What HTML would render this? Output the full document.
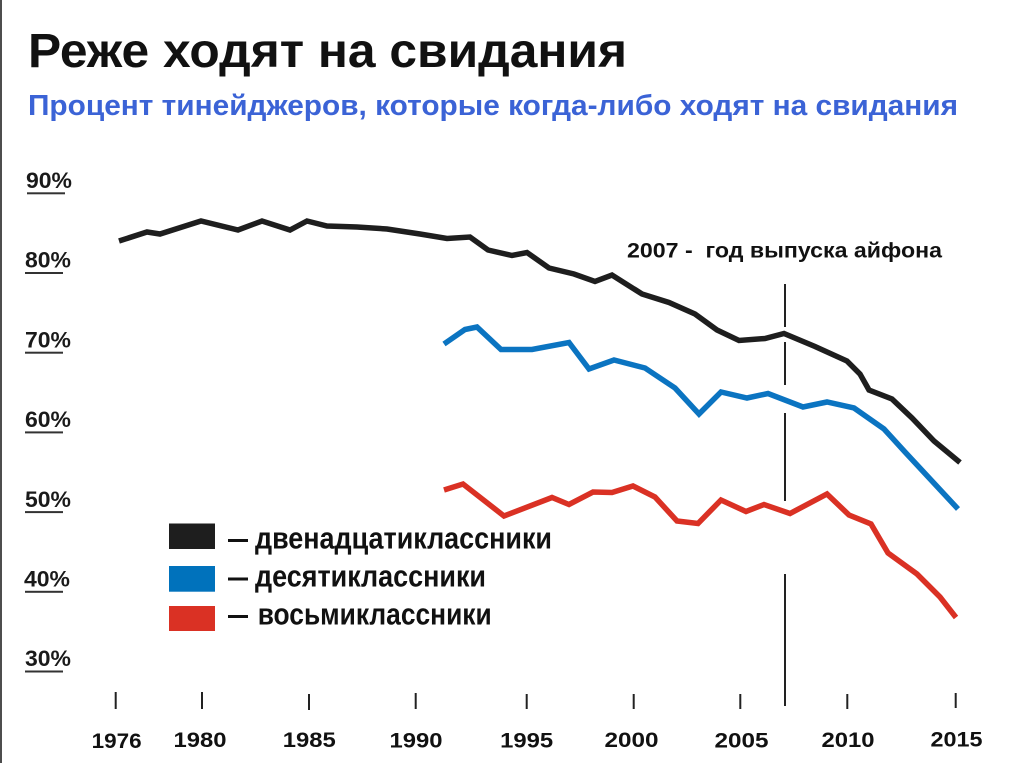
<!DOCTYPE html>
<html>
<head>
<meta charset="utf-8">
<style>
  html,body{margin:0;padding:0;background:#fff;}
  svg{display:block;}
  text{font-family:"Liberation Sans","Noto Sans CJK SC",sans-serif;font-weight:bold;}
</style>
</head>
<body>
<svg width="1024" height="763" viewBox="0 0 1024 763" xmlns="http://www.w3.org/2000/svg">
  <rect x="0" y="0" width="1024" height="763" fill="#ffffff"/>
  <rect x="0" y="0" width="2" height="763" fill="#4d4d4d"/>

  <!-- Title -->
  <text x="28" y="67" font-size="48" fill="#111111" textLength="599" lengthAdjust="spacingAndGlyphs">Реже ходят на свидания</text>
  <text x="28" y="115" font-size="29" fill="#3b63d6" textLength="930" lengthAdjust="spacingAndGlyphs">Процент тинейджеров, которые когда-либо ходят на свидания</text>

  <!-- Y axis labels -->
  <g fill="#1a1a1a" font-size="22">
    <text x="26" y="188" textLength="46" lengthAdjust="spacingAndGlyphs">90%</text>
    <text x="25" y="267.7" textLength="46" lengthAdjust="spacingAndGlyphs">80%</text>
    <text x="25" y="347.4" textLength="46" lengthAdjust="spacingAndGlyphs">70%</text>
    <text x="25" y="427.1" textLength="46" lengthAdjust="spacingAndGlyphs">60%</text>
    <text x="25" y="506.8" textLength="46" lengthAdjust="spacingAndGlyphs">50%</text>
    <text x="24" y="586.5" textLength="46" lengthAdjust="spacingAndGlyphs">40%</text>
    <text x="25" y="666.2" textLength="46" lengthAdjust="spacingAndGlyphs">30%</text>
  </g>
  <g fill="#333333">
    <rect x="27" y="192.3" width="38" height="2"/>
    <rect x="25" y="272" width="38" height="2"/>
    <rect x="25" y="351.7" width="38" height="2"/>
    <rect x="25" y="431.4" width="38" height="2"/>
    <rect x="25" y="511.1" width="38" height="2"/>
    <rect x="25" y="590.8" width="38" height="2"/>
    <rect x="25" y="670.5" width="38" height="2"/>
  </g>

  <!-- X ticks -->
  <g stroke="#222" stroke-width="2">
    <line x1="115.7" y1="692" x2="115.7" y2="709"/>
    <line x1="202" y1="692" x2="202" y2="709"/>
    <line x1="309" y1="694" x2="309" y2="710"/>
    <line x1="415.7" y1="693" x2="415.7" y2="709"/>
    <line x1="526.7" y1="694" x2="526.7" y2="709"/>
    <line x1="633.7" y1="694" x2="633.7" y2="709"/>
    <line x1="740.3" y1="694" x2="740.3" y2="709"/>
    <line x1="847.3" y1="694" x2="847.3" y2="709"/>
    <line x1="955.7" y1="693" x2="955.7" y2="708"/>
  </g>
  <g fill="#111" font-size="21.5" text-anchor="middle">
    <text x="116.7" y="748" textLength="50" lengthAdjust="spacingAndGlyphs">1976</text>
    <text x="200" y="747" textLength="53" lengthAdjust="spacingAndGlyphs">1980</text>
    <text x="309.3" y="747" textLength="53" lengthAdjust="spacingAndGlyphs">1985</text>
    <text x="416" y="747.5" textLength="53" lengthAdjust="spacingAndGlyphs">1990</text>
    <text x="526.7" y="747.5" textLength="53" lengthAdjust="spacingAndGlyphs">1995</text>
    <text x="631.5" y="747" textLength="54" lengthAdjust="spacingAndGlyphs">2000</text>
    <text x="741.5" y="747.5" textLength="54" lengthAdjust="spacingAndGlyphs">2005</text>
    <text x="848" y="747" textLength="53" lengthAdjust="spacingAndGlyphs">2010</text>
    <text x="956.5" y="746.5" textLength="52" lengthAdjust="spacingAndGlyphs">2015</text>
  </g>

  <!-- 2007 marker -->
  <g stroke="#222" stroke-width="2">
    <line x1="785" y1="284" x2="785" y2="327"/>
    <line x1="785" y1="342" x2="785" y2="385"/>
    <line x1="785" y1="413" x2="785" y2="501"/>
    <line x1="785" y1="574" x2="785" y2="706"/>
  </g>
  <text x="627" y="257.5" font-size="21.5" fill="#111" textLength="315" lengthAdjust="spacingAndGlyphs">2007 -&#160; год выпуска айфона</text>

  <!-- Series -->
  <g fill="none" stroke-width="5.5" stroke-linejoin="miter" stroke-linecap="butt">
    <polyline stroke="#1e1e1e" points="119,241 147,232 160,234 201,221 238,230 262,221 290,230 307,221 327,226 357,227 387,229 420,234 447,238.5 470,237 488,250 512,255.5 527,252.5 549,268 574,274 595,281.5 612,275 642,294 669,302.5 695,314 717,330 739,340.5 765,338.5 784,333.5 815,346.5 847,361 860,374 869,390 892,399 912,418 934,441 960,462.5"/>
    <polyline stroke="#0b74c1" points="444,344 465,329.5 477,327 501,349.5 532,349.5 569,342.5 589,369 614,360 645,368 675,388 699,414 721,392 747,398 768,393.5 803,407 827,402 854,408 884,429 905,452 958,509"/>
    <polyline stroke="#da3124" points="444,490 463,484 504,516 552,497.5 569,504.5 593,492 612,492.5 633,486 655,497 677,521 698,523.5 721,500 746,511.5 764,504.5 790,513.5 827,494 849,515 871,524 888,553 917,574 940,597 956,617.5"/>
  </g>

  <!-- Legend -->
  <rect x="169" y="523.5" width="46" height="25.5" fill="#1e1e1e"/>
  <rect x="169" y="566" width="46" height="25.7" fill="#0072bc"/>
  <rect x="169" y="606" width="46" height="25" fill="#da3124"/>
  <g fill="#111">
    <rect x="228" y="539" width="20" height="3"/>
    <rect x="228" y="577.5" width="20" height="3"/>
    <rect x="228" y="615" width="20" height="3"/>
  </g>
  <g fill="#111" font-size="31">
    <text x="255" y="548.3" textLength="297" lengthAdjust="spacingAndGlyphs">двенадцатиклассники</text>
    <text x="255" y="586.7" textLength="231" lengthAdjust="spacingAndGlyphs">десятиклассники</text>
    <text x="257.7" y="624.5" textLength="234" lengthAdjust="spacingAndGlyphs">восьмиклассники</text>
  </g>
</svg>
</body>
</html>
